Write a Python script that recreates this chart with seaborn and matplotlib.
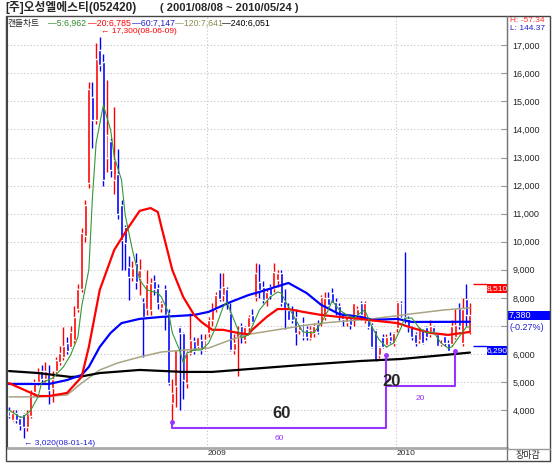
import numpy as np
import pandas as pd
import seaborn as sns
import matplotlib.pyplot as plt
from matplotlib.patches import Rectangle
from matplotlib.lines import Line2D
import matplotlib.transforms as mtransforms

sns.set_style("white")
plt.rcParams['font.family'] = ['Liberation Sans', 'Noto Sans CJK KR', 'DejaVu Sans']

# weekly candles, 2007-12-17 .. 2010-05-24
opens = [3950, 3650, 3900, 3700, 3850, 3400, 3800, 4650, 5000, 5400,
         5100, 5300, 4800, 5400, 5700, 5900, 6400, 6250, 6500, 7600,
         8300, 10200, 12100, 15150, 14350, 16850, 16400, 12990, 13600, 12200,
         12400, 11300, 10520, 9100, 8750, 9250, 8700, 7850, 7600, 7570,
         8600, 8350, 7650, 8300, 7450, 4260, 4860, 6950, 6750, 4970,
         6050, 6450, 6300, 6500, 6150, 6750, 7200, 7600, 8300, 8100,
         8300, 7450, 6150, 6600, 7000, 6500, 6950, 7400, 8030, 8560,
         8400, 7950, 8400, 8350, 8650, 8900, 7900, 7570, 7550, 7320,
         6850, 7100, 6900, 6570, 6750, 7050, 7100, 7300, 8000, 8170,
         7850, 7700, 7450, 7150, 7280, 7390, 7400, 7800, 7200, 7210,
         7030, 6860, 5960, 6600, 6330, 6650, 6390, 6920, 7800, 7300,
         7250, 6960, 6700, 6500, 6850, 6950, 6700, 6950, 6700, 6350,
         6650, 6400, 6350, 6600, 7650, 6400, 7950, 6800]
highs = [4100, 4000, 4000, 3800, 3900, 4000, 4700, 5100, 5500, 5600,
         5700, 5600, 5400, 5900, 6300, 6950, 6600, 7000, 7700, 8500,
         10500, 11500, 15700, 15700, 17080, 17300, 16700, 15760, 13700, 14800,
         13300, 11500, 10600, 9500, 9300, 9600, 9400, 8000, 9000, 8700,
         8800, 8500, 7900, 8450, 7600, 5100, 6150, 7000, 6800, 6100,
         7450, 6600, 6600, 6700, 6700, 7300, 7800, 8200, 8900, 8900,
         8400, 7800, 6700, 7000, 7100, 7000, 7400, 7600, 9240, 9200,
         8600, 8300, 8500, 9250, 9000, 9000, 8300, 7800, 7700, 7600,
         7000, 7300, 7000, 7000, 7100, 7200, 8100, 8200, 8200, 8360,
         8000, 7800, 7500, 7400, 7350, 7820, 7700, 7900, 7900, 7300,
         7100, 6900, 6300, 6700, 6700, 6800, 6800, 7900, 7900, 9640,
         7350, 7000, 6800, 6950, 6900, 7000, 7200, 7000, 6750, 6500,
         6700, 6500, 7200, 7600, 7800, 8000, 8510, 7800]
lows = [3700, 3600, 3550, 3300, 3020, 3250, 3700, 4500, 4900, 5000,
        5000, 4200, 4300, 5200, 5600, 5800, 6000, 6200, 6400, 7500,
        8200, 10000, 11900, 13350, 14200, 16100, 12000, 12500, 12300, 11700,
        10800, 9000, 9000, 7930, 8600, 8300, 8100, 5900, 7400, 7400,
        8100, 7600, 7500, 6850, 4900, 3650, 4100, 4000, 4400, 4800,
        5950, 6000, 6200, 6000, 6100, 6600, 7000, 7500, 7900, 7900,
        7600, 6100, 6000, 5200, 6400, 6400, 6800, 7100, 7900, 8000,
        7800, 7700, 7950, 8200, 8400, 7700, 6900, 7200, 7100, 6320,
        6700, 6500, 6500, 6500, 6600, 6700, 7000, 7200, 7700, 7800,
        7400, 7200, 7000, 7000, 6900, 7000, 7300, 7200, 7100, 6900,
        6200, 5750, 5850, 6200, 6250, 6400, 6300, 6800, 7300, 7100,
        6800, 6500, 6300, 6400, 6350, 6500, 6600, 6700, 6290, 6300,
        6300, 6300, 6300, 6550, 6900, 6300, 7000, 6700]
closes = [3800, 3900, 3650, 3450, 3400, 3900, 4600, 5000, 5350, 5100,
          5400, 4700, 5100, 5780, 6030, 6300, 6100, 6780, 7300, 8300,
          10300, 11300, 15450, 14350, 16500, 16300, 12200, 13800, 12560, 12900,
          11000, 10060, 9960, 8750, 9070, 8550, 9000, 7300, 8500, 8530,
          8320, 7800, 7800, 7400, 4970, 4610, 6150, 6750, 5070, 6050,
          6500, 6100, 6600, 6150, 6500, 7200, 7600, 8100, 7950, 8400,
          7800, 6150, 6400, 6850, 6650, 6950, 7300, 7150, 8880, 8280,
          7930, 8200, 8100, 8920, 8900, 7820, 7600, 7220, 7200, 6740,
          7000, 6600, 6600, 6850, 7000, 6800, 8030, 8000, 7750, 7820,
          7500, 7300, 7250, 7350, 7030, 7820, 7600, 7400, 7800, 6960,
          6250, 5790, 6250, 6250, 6600, 6450, 6740, 7850, 7400, 7200,
          6950, 6600, 6400, 6900, 6400, 6600, 7000, 6800, 6300, 6400,
          6400, 6100, 7000, 7030, 7000, 7600, 7400, 7380]

# moving averages (candle index, price)
ma5_idx = [0, 3, 4, 6, 8, 9, 12, 15, 17, 19, 20, 22, 23, 24, 26, 28, 29, 31, 32, 34,
           36, 38, 41, 42, 44, 45, 47, 48, 49, 51, 53, 55, 57, 59, 60, 62, 64, 66, 69, 72,
           74, 75, 77, 79, 81, 84, 86, 88, 89, 91, 93, 95, 96, 98, 100, 102, 104, 106, 108, 109,
           111, 113, 115, 117, 119, 121, 122, 124, 126, 127]
ma5_val = [4000, 3750, 3750, 4000, 4470, 4970, 5140, 5540, 5970, 6610, 7680, 9000, 11600, 13520, 14870, 13980, 13020, 12200, 10960, 9710,
           8640, 8280, 8170, 8030, 7460, 6750, 6140, 5680, 6030, 6140, 6140, 6390, 6960, 7680, 7850, 7210, 6570, 6680, 7570, 8030,
           8210, 8170, 7680, 7210, 6780, 6750, 7100, 7570, 7900, 7570, 7390, 7280, 7390, 7570, 6960, 6500, 6250, 6390, 6930, 7280,
           7280, 6930, 6750, 6780, 6390, 6210, 6250, 6610, 6960, 6962]
ma20_idx = [0, 8, 11, 16, 20, 22, 25, 29, 33, 36, 39, 41, 42, 45, 48, 51, 53, 56, 59, 63,
            66, 67, 71, 74, 77, 81, 86, 91, 97, 99, 107, 111, 116, 121, 125, 127]
ma20_val = [4960, 4500, 4500, 4610, 5180, 6250, 8280, 9710, 10530, 11100, 11200, 11060, 10530, 8990, 8030, 7390, 7140, 6860, 6860, 6750,
            6700, 6860, 7320, 7600, 7600, 7500, 7390, 7320, 7250, 7210, 7100, 6930, 6750, 6680, 6750, 6785]
ma60_idx = [0, 11, 16, 20, 22, 25, 28, 31, 36, 42, 51, 55, 61, 66, 69, 77, 82, 86, 91, 97,
            100, 107, 111, 127]
ma60_val = [4930, 4930, 5070, 5250, 5540, 6250, 6750, 7100, 7250, 7320, 7390, 7500, 7850, 8100, 8210, 8530, 8170, 7750, 7420, 7320,
            7210, 7250, 7140, 7147]
ma120_idx = [0, 8, 16, 20, 25, 30, 36, 42, 55, 61, 66, 82, 88, 100, 111, 120, 127]
ma120_val = [4470, 4470, 4540, 4960, 5430, 5680, 5890, 6070, 6210, 6500, 6700, 7030, 7120, 7250, 7430, 7570, 7641]
ma240_idx = [0, 8, 17, 20, 25, 36, 48, 56, 66, 80, 97, 108, 119, 127]
ma240_val = [5390, 5320, 5180, 5200, 5320, 5430, 5360, 5360, 5460, 5600, 5750, 5820, 5950, 6050]

year_idx = [55, 107]
year_labels = ["2009", "2010"]
price_ticks = list(range(4000, 18000, 1000))

legend_items = [("\u20145:6,962", "#2e8b2e"), ("\u201420:6,785", "#ff0000"),
                ("\u201460:7,147", "#2020d0"), ("\u2014120:7,641", "#8c8c50"),
                ("\u2014240:6,051", "#000000")]
legend_x = [48, 88, 132, 175, 222]

W, H = 559, 465
fig = plt.figure(figsize=(W / 100, H / 100), dpi=100)


def fx(x):
    return x / W


def fy(y):
    return 1 - y / H


ax = fig.add_axes([fx(7), fy(448), fx(507) - fx(7), fy(17) - fy(448)])

df = pd.DataFrame({"o": opens, "h": highs, "l": lows, "c": closes})
df["i"] = np.arange(len(df))
df["col"] = np.where(df["c"] >= df["o"], "#ff0000", "#0000ff")

ax.vlines(df["i"], df["l"], df["h"], colors=df["col"], lw=1.0, zorder=2)
ax.bar(df["i"], (df["c"] - df["o"]).abs().clip(lower=30), bottom=df[["o", "c"]].min(axis=1),
       width=0.82, color=df["col"], zorder=3)

ma_specs = [(ma120_idx, ma120_val, "#a8a484", 1.1),
            (ma240_idx, ma240_val, "#000000", 1.6),
            (ma60_idx, ma60_val, "#0000ff", 1.6),
            (ma20_idx, ma20_val, "#ff0000", 1.6),
            (ma5_idx, ma5_val, "#339933", 0.8)]
for k, (xi, yv, col, lw) in enumerate(ma_specs):
    sns.lineplot(x=xi, y=yv, color=col, lw=lw, ax=ax, zorder=4 + k)

ax.set_xlim(-0.55, 137.2)
ax.set_ylim(2648, 18009)

# last close tag covers the 7,000 label, as in the original
ax.yaxis.tick_right()
ax.set_yticks(price_ticks)
ax.set_yticklabels(["" if p == 7000 else f"{p:,}" for p in price_ticks])
ax.tick_params(axis='y', direction='in', length=4, pad=4, labelsize=6.5, color='#999999')
ax.set_xticks([y - 0.5 for y in year_idx])
ax.set_xticklabels([])
ax.tick_params(axis='x', direction='out', length=9, color='#999999')
ax.grid(axis='y', color='#c4c4c4', linestyle=(0, (1, 2)), lw=0.8)
for y in year_idx:
    ax.axvline(y - 0.5, color='#c4c4c4', linestyle=(0, (1, 2)), lw=0.8, zorder=0)
ax.set_xlabel("")
ax.set_ylabel("")
ax.spines['top'].set_visible(False)
ax.spines['left'].set_color('#444444')
ax.spines['right'].set_color('#777777')
ax.spines['bottom'].set_color('#aaaaaa')
ax.spines['bottom'].set_linewidth(2)
ax.spines['bottom'].set_linestyle((0, (1, 1)))

xtrans = mtransforms.blended_transform_factory(ax.transData, ax.transAxes)
for i, lab in zip(year_idx, year_labels):
    ax.text(i - 0.2, -0.005, lab, transform=xtrans, fontsize=6, va='top', ha='left')

# high / low marks
imax = int(df["h"].idxmax())
imin = int(df["l"].idxmin())
ax.annotate(f"\u2190 {df['h'].max():,}(08-06-09)", xy=(imax, df['h'].max()), xytext=(1, 3.6),
            textcoords='offset points', color='#ff0000', fontsize=6, va='center', ha='left')
ax.annotate(f"\u2190 {df['l'].min():,}(08-01-14)", xy=(imin, df['l'].min()), xytext=(0, -2),
            textcoords='offset points', color='#2020d0', fontsize=6, va='top', ha='left')

# recent high / low tags
last = len(df) - 1
hi_recent = 8510
lo_recent = 6290
ax.hlines(hi_recent, last + 0.8, 131.8, colors='#ff0000', lw=1)
ax.hlines(lo_recent, last + 0.8, 131.8, colors='#0000ff', lw=1)
for val, col in [(hi_recent, '#ff0000'), (lo_recent, '#0000ff')]:
    ax.add_patch(Rectangle((131.8, val - 330), 137.2 - 131.8, 330, transform=ax.transData,
                           fc=col, ec='none', clip_on=False, zorder=10))
    ax.text(134.5, val - 165, f"{val:,}", ha='center', va='center', color='white',
            fontsize=6, clip_on=False, zorder=11)
fig.add_artist(Rectangle((fx(507), fy(320)), fx(550) - fx(507), fy(311) - fy(320), fc='#0000ff',
                         ec='none', transform=fig.transFigure))
fig.text(fx(509), fy(315.5), f"{closes[-1]:,}", color='white', fontsize=6.5, va='center', ha='left')
fig.text(fx(509), fy(328), "(-0.27%)", color='#2020d0', fontsize=6.5, va='center', ha='left')

# period brackets
purple = '#9933ff'
b0, b1, b2 = 45, 104, 123
ax.plot([b0, b0, b1, b1], [3570, 3360, 3360, 5950], color=purple, lw=1.5, zorder=9)
ax.plot([b1, b2, b2], [4865, 4865, 6100], color=purple, lw=1.5, zorder=9)
ax.plot([b0, b1, b2], [3570, 5950, 6100], ls='none', marker='o', ms=2.5, color=purple, zorder=9)
fig.text(fx(282), fy(413), "60", fontsize=12, fontweight='bold', ha='center', va='center')
fig.text(fx(392), fy(381), "20", fontsize=12, fontweight='bold', ha='center', va='center')
fig.text(fx(279), fy(438), "60", fontsize=6, color=purple, ha='center', va='center')
fig.text(fx(420), fy(398), "20", fontsize=6, color=purple, ha='center', va='center')

# header
fig.text(fx(5), fy(8), "[주]오성엘에스티(052420)", fontsize=8.5, fontweight='bold', va='center')
fig.text(fx(160), fy(8), "( 2001/08/08 ~ 2010/05/24 )", fontsize=8, fontweight='bold', va='center')
fig.text(fx(7), fy(23.5), "캔들차트", fontsize=6.3, va='center')
for (lab, col), x in zip(legend_items, legend_x):
    fig.text(fx(x), fy(23.5), lab, fontsize=6.3, color=col, va='center')
fig.text(fx(510), fy(21), "H: -57.34", fontsize=6, color='#ff3333', va='center')
fig.text(fx(510), fy(29), "L: 144.37", fontsize=6, color='#2020d0', va='center')
fig.text(fx(528), fy(455), "장마감", fontsize=6.5, ha='center', va='center')

# frame
fig.add_artist(Rectangle((fx(6), fy(461)), fx(550) - fx(6), fy(16) - fy(461), fill=False,
                         ec='#444444', lw=1, transform=fig.transFigure))
fig.add_artist(Line2D([fx(507), fx(507)], [fy(16), fy(461)], color='#777777', lw=1,
                      transform=fig.transFigure))
fig.add_artist(Line2D([fx(507), fx(550)], [fy(449), fy(449)], color='#999999', lw=1,
                      transform=fig.transFigure))

fig.savefig("out.png", dpi=100)
